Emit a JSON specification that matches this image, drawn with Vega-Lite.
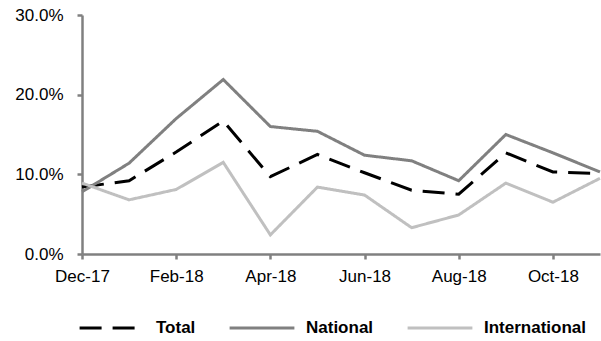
{
  "$schema": "https://vega.github.io/schema/vega-lite/v6.json",
  "width": 518,
  "height": 239,
  "autosize": {"type": "none"},
  "padding": {"left": 82, "top": 15, "right": 1, "bottom": 87},
  "config": {
    "view": {"stroke": null},
    "font": "Liberation Sans",
    "axis": {
      "domainColor": "#808080",
      "domainWidth": 2.5,
      "tickColor": "#808080",
      "tickWidth": 2.5,
      "tickSize": 5,
      "labelFont": "Liberation Sans",
      "labelFontSize": 17,
      "labelColor": "#000000",
      "grid": false,
      "title": null
    },
    "legend": {
      "orient": "none",
      "direction": "horizontal",
      "legendX": -4,
      "legendY": 279,
      "title": null,
      "symbolType": "stroke",
      "symbolSize": 4200,
      "symbolStrokeWidth": 3,
      "labelFont": "Liberation Sans",
      "labelFontSize": 17,
      "labelFontWeight": "bold",
      "labelColor": "#000000",
      "labelOffset": 10,
      "columnPadding": 27
    }
  },
  "data": {
    "values": [
      {"month": "Dec-17", "series": "Total", "value": 0.084},
      {"month": "Jan-18", "series": "Total", "value": 0.092},
      {"month": "Feb-18", "series": "Total", "value": 0.128},
      {"month": "Mar-18", "series": "Total", "value": 0.167},
      {"month": "Apr-18", "series": "Total", "value": 0.097},
      {"month": "May-18", "series": "Total", "value": 0.125},
      {"month": "Jun-18", "series": "Total", "value": 0.102},
      {"month": "Jul-18", "series": "Total", "value": 0.080},
      {"month": "Aug-18", "series": "Total", "value": 0.075},
      {"month": "Sep-18", "series": "Total", "value": 0.127},
      {"month": "Oct-18", "series": "Total", "value": 0.103},
      {"month": "Nov-18", "series": "Total", "value": 0.101},
      {"month": "Dec-17", "series": "National", "value": 0.078},
      {"month": "Jan-18", "series": "National", "value": 0.114},
      {"month": "Feb-18", "series": "National", "value": 0.170},
      {"month": "Mar-18", "series": "National", "value": 0.219},
      {"month": "Apr-18", "series": "National", "value": 0.160},
      {"month": "May-18", "series": "National", "value": 0.154},
      {"month": "Jun-18", "series": "National", "value": 0.124},
      {"month": "Jul-18", "series": "National", "value": 0.117},
      {"month": "Aug-18", "series": "National", "value": 0.092},
      {"month": "Sep-18", "series": "National", "value": 0.150},
      {"month": "Oct-18", "series": "National", "value": 0.127},
      {"month": "Nov-18", "series": "National", "value": 0.103},
      {"month": "Dec-17", "series": "International", "value": 0.089},
      {"month": "Jan-18", "series": "International", "value": 0.068},
      {"month": "Feb-18", "series": "International", "value": 0.081},
      {"month": "Mar-18", "series": "International", "value": 0.115},
      {"month": "Apr-18", "series": "International", "value": 0.024},
      {"month": "May-18", "series": "International", "value": 0.084},
      {"month": "Jun-18", "series": "International", "value": 0.074},
      {"month": "Jul-18", "series": "International", "value": 0.033},
      {"month": "Aug-18", "series": "International", "value": 0.049},
      {"month": "Sep-18", "series": "International", "value": 0.089},
      {"month": "Oct-18", "series": "International", "value": 0.065},
      {"month": "Nov-18", "series": "International", "value": 0.095}
    ]
  },
  "mark": {"type": "line", "strokeWidth": 3},
  "encoding": {
    "x": {
      "field": "month",
      "type": "ordinal",
      "sort": null,
      "scale": {"type": "point", "padding": 0},
      "axis": {
        "values": ["Dec-17", "Feb-18", "Apr-18", "Jun-18", "Aug-18", "Oct-18"],
        "labelAngle": 0,
        "labelPadding": 9
      }
    },
    "y": {
      "field": "value",
      "type": "quantitative",
      "scale": {"domain": [0, 0.3]},
      "axis": {
        "values": [0, 0.1, 0.2, 0.3],
        "format": ".1%",
        "labelPadding": 14
      }
    },
    "color": {
      "field": "series",
      "type": "nominal",
      "sort": ["Total", "National", "International"],
      "scale": {
        "domain": ["Total", "National", "International"],
        "range": ["#000000", "#808080", "#c0c0c0"]
      }
    },
    "strokeDash": {
      "field": "series",
      "type": "nominal",
      "sort": ["Total", "National", "International"],
      "scale": {
        "domain": ["Total", "National", "International"],
        "range": [[22, 11], [1, 0], [1, 0]]
      }
    }
  }
}
